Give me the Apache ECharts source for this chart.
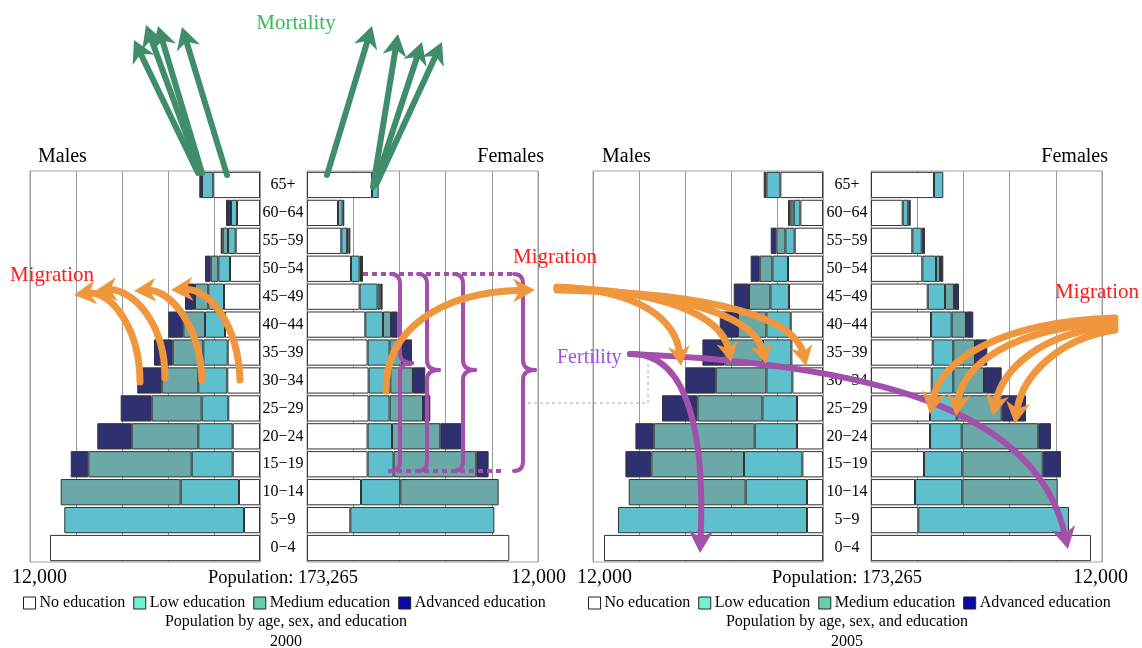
<!DOCTYPE html>
<html>
<head>
<meta charset="utf-8">
<script src="https://cdn.jsdelivr.net/npm/echarts@6/dist/echarts.min.js"></script>
<style>html,body{margin:0;padding:0;background:#fff;}#c{width:1142px;height:648px;}</style>
</head>
<body>
<div id="c"></div>
<script>
// ---- data (top row = oldest age group) ----
const ages = ['65+','60−64','55−59','50−54','45−49','40−44','35−39','30−34','25−29','20−24','15−19','10−14','5−9','0−4'];
const levels = ['No education','Low education','Medium education','Advanced education'];

const male2000None = [2436,1200,1268,1565,1878,1826,1685,1706,1654,1424,1424,1096,835,10957];
const male2000Low  = [590,313,400,610,819,1043,1273,1513,1388,1795,2139,3042,9375,0];
const male2000Med  = [0,0,277,396,694,1132,1596,1910,2609,3475,5394,6261,0,0];
const male2000Adv  = [140,260,104,297,522,783,976,1273,1617,1795,918,0,0,0];

const female2000None = [3377,1610,1782,2286,2733,3029,3148,3200,3200,3148,3148,2805,2250,10510];
const female2000Low  = [346,240,300,447,935,920,1143,1127,1091,1268,1351,2042,7481,0];
const female2000Med  = [0,0,80,73,140,416,644,1179,1735,2509,4296,5107,0,0];
const female2000Adv  = [0,88,90,104,120,343,520,639,379,1127,639,0,0,0];

const male2005None = [2223,1179,1476,1826,1774,1685,1649,1596,1356,1356,1075,835,835,11425];
const male2005Low  = [730,350,485,814,970,1268,1482,1356,1805,2207,3047,3198,9860,0];
const male2005Med  = [0,170,470,663,1116,1482,1998,2645,3391,5269,4831,6104,0,0];
const male2005Adv  = [140,125,297,470,798,955,1163,1581,1847,955,1356,0,0,0];

const female2005None = [3273,1647,2146,2665,2946,3117,3205,3153,3065,3065,2753,2286,2457,11429];
const female2005Low  = [483,291,488,712,899,1075,1070,1122,1387,1647,1990,2457,7829,0];
const female2005Med  = [0,0,0,208,468,743,1127,1595,2338,3979,4177,4956,0,0];
const female2005Adv  = [0,125,171,171,260,379,639,919,1262,660,951,0,0,0];

const axisMax = 12000;
const axisStep = 2400;
const totalPopulation = 'Population: 173,265';
const edgeLabel = '12,000';

// ---- styling ----
const SERIF = "'Liberation Serif','DejaVu Serif',serif";
const barColors = ['#ffffff','#5ebfcd','#6aa9a7','#2f3070'];
const legendColors = ['#ffffff','#70f2d2','#66cfaa','#0a0aa8'];
const ORANGE = '#f0963c', GREEN = '#3f8d6a', PURPLE = '#a350ac';

const panels = [
  {left:30,  width:230, male:true,  data:[male2000None,male2000Low,male2000Med,male2000Adv]},
  {left:307, width:231, male:false, data:[female2000None,female2000Low,female2000Med,female2000Adv]},
  {left:593, width:230, male:true,  data:[male2005None,male2005Low,male2005Med,male2005Adv]},
  {left:871, width:231, male:false, data:[female2005None,female2005Low,female2005Med,female2005Adv]}
];

const grid = [], xAxis = [], yAxis = [], series = [];
panels.forEach((p, i) => {
  grid.push({left:p.left, width:p.width, top:171, height:391, show:true, borderColor:'#a0a0a0', borderWidth:1, containLabel:false});
  xAxis.push({type:'value', gridIndex:i, min:0, max:axisMax, interval:axisStep, inverse:p.male,
    axisLine:{show:false}, axisTick:{show:false}, axisLabel:{show:false},
    splitLine:{show:true, lineStyle:{color:'#999', width:1}}});
  yAxis.push({type:'category', gridIndex:i, data:ages, inverse:true, position:p.male?'right':'left',
    axisLine:{show:false}, axisTick:{show:false},
    axisLabel:{show:p.male, align:'center', margin:p.left===30?23:24, color:'#000', fontSize:16, fontFamily:SERIF}});
  p.data.forEach((arr, k) => {
    series.push({type:'bar', name:levels[k], xAxisIndex:i, yAxisIndex:i, stack:'s'+i,
      barCategoryGap:'6%', silent:true,
      itemStyle:{color:barColors[k], borderColor:'#333', borderWidth:1},
      data:arr.map(v => v === 0 ? '-' : v)});
  });
});

function legendFor(left) {
  return {left:left, top:590, itemWidth:12, itemHeight:12, itemGap:8, selectedMode:false, icon:'rect',
    textStyle:{fontSize:16, fontFamily:SERIF, color:'#000', padding:[0,0,0,-1]},
    data:levels.map((n,k)=>({name:n, itemStyle:{color:legendColors[k], borderColor:'#222', borderWidth:1}}))};
}

// ---- annotation helpers ----
const els = [];
function txt(x, y, s, size, color, align) {
  els.push({type:'text', x:x, y:y, z:120, style:{text:s, fill:color||'#000', font:`${size}px ${SERIF}`, textAlign:align||'left', textVerticalAlign:'middle'}});
}
function curve(x1,y1,cx1,cy1,cx2,cy2,x2,y2,color,w,z) {
  const shape = {x1:x1,y1:y1,x2:x2,y2:y2,cpx1:cx1,cpy1:cy1};
  if (cx2 !== null) { shape.cpx2 = cx2; shape.cpy2 = cy2; }
  els.push({type:'bezierCurve', z:z||110, shape:shape, style:{stroke:color, lineWidth:w, fill:null, lineCap:'round'}});
}
function seg(x1,y1,x2,y2,color,w,dash) {
  const st = {stroke:color, lineWidth:w};
  if (dash) st.lineDash = dash;
  els.push({type:'line', z:110, shape:{x1:x1,y1:y1,x2:x2,y2:y2}, style:st});
}
function arrow(x0,y0,c1x,c1y,c2x,c2y,x1,y1,color,w,head) {
  let dx = x1 - c2x, dy = y1 - c2y;
  if (Math.abs(dx) + Math.abs(dy) < 0.001) { dx = x1 - x0; dy = y1 - y0; }
  const L = Math.hypot(dx, dy); dx /= L; dy /= L;
  const bx = x1 - dx*head, by = y1 - dy*head;
  const nx = -dy, ny = dx, hw = head*0.55;
  const ex = x1 - dx*head*0.6, ey = y1 - dy*head*0.6;
  curve(x0,y0,c1x,c1y,c2x,c2y,ex,ey,color,w);
  els.push({type:'polygon', z:111, shape:{points:[[x1,y1],[bx+nx*hw,by+ny*hw],[x1-dx*head*0.7,y1-dy*head*0.7],[bx-nx*hw,by-ny*hw]]},
    style:{fill:color}});
}
function straight(x0,y0,x1,y1,color,w) { arrow(x0,y0,x0,y0,x0,y0,x1,y1,color,w,22); }
function brace(x, top, bot, mid, color) {
  curve(x-9,top,x,top,null,null,x,top+10,color,4);
  seg(x,top+10,x,mid-10,color,4);
  curve(x,mid-10,x,mid,null,null,x+12,mid,color,4);
  curve(x+12,mid,x,mid,null,null,x,mid+10,color,4);
  seg(x,mid+10,x,bot-10,color,4);
  curve(x,bot-10,x,bot,null,null,x-9,bot,color,4);
}

// panel texts
txt(38,157,'Males',20); txt(544,157,'Females',20,'#000','right');
txt(602,157,'Males',20); txt(1108,157,'Females',20,'#000','right');
txt(12,578,edgeLabel,20); txt(283,578,totalPopulation,18.5,'#000','center'); txt(566,578,edgeLabel,20,'#000','right');
txt(577,578,edgeLabel,20); txt(847,578,totalPopulation,18.5,'#000','center'); txt(1128,578,edgeLabel,20,'#000','right');
txt(286,622,'Population by age, sex, and education',16,'#000','center'); txt(286,642,'2000',16,'#000','center');
txt(847,622,'Population by age, sex, and education',16,'#000','center'); txt(847,642,'2005',16,'#000','center');

// gray dashed guide
els.push({type:'polyline', z:105, shape:{points:[[528,403],[648,403],[648,355]]}, style:{stroke:'#aaa', lineWidth:1, lineDash:[3,3], fill:null}});

// Mortality
txt(296,23,'Mortality',21,'#3cb85a','center');
straight(198,173,134,40,GREEN,6); straight(200,172,146,25,GREEN,6); straight(202,173,158,26,GREEN,6); straight(227,175,182,27,GREEN,6);
straight(327,175,372,26,GREEN,6); straight(373,187,398,34,GREEN,6); straight(375,185,422,42,GREEN,6); straight(377,183,442,42,GREEN,6);

// Fertility braces (2000 females)
seg(363,274,515,274,PURPLE,4,[5,4]);
seg(388,471,505,471,PURPLE,4,[5,4]);
brace(400,274,471,363,PURPLE); brace(427,274,471,370,PURPLE); brace(463,274,471,370,PURPLE); brace(523,274,471,370,PURPLE);

// Migration 2000 males
txt(10,275,'Migration',21,'#ff1a1a');
arrow(140,382,140,330,112,290,74,295,ORANGE,7,22);
arrow(165,378,165,322,132,288,95,291,ORANGE,7,22);
arrow(202,380,200,325,170,289,134,291,ORANGE,7,22);
arrow(240,380,238,325,210,288,171,290,ORANGE,7,22);
// Migration 2000 females
arrow(386,391,385,330,440,292,535,290,ORANGE,7,22);
txt(513,257,'Migration',21,'#ff1a1a');
arrow(557,287,640,290,676,320,681,366,ORANGE,7,20);
arrow(557,288,662,290,722,315,731,362,ORANGE,7,20);
arrow(557,289,692,292,756,320,766,364,ORANGE,7,20);
arrow(557,290,722,293,796,320,806,366,ORANGE,7,20);
// Migration right
txt(1055,292,'Migration',21,'#ff1a1a');
arrow(1115,318,1000,322,940,360,930,414,ORANGE,7,22);
arrow(1115,322,1010,328,962,365,956,416,ORANGE,7,22);
arrow(1115,326,1040,332,1002,370,993,416,ORANGE,7,22);
arrow(1115,330,1060,338,1022,375,1015,424,ORANGE,7,22);

// Fertility arrows
txt(557,358,'Fertility',20,'#a24de6');
arrow(630,354,690,352,705,440,700,553,PURPLE,6,22);
arrow(630,354,900,365,1040,420,1068,549,PURPLE,6,22);

const option = {
  animation:false,
  backgroundColor:'#fff',
  grid:grid, xAxis:xAxis, yAxis:yAxis, series:series,
  legend:[legendFor(18), legendFor(583)],
  graphic:{elements:els}
};
const chart = echarts.init(document.getElementById('c'), null, {renderer:'canvas'});
chart.setOption(option);
</script>
</body>
</html>
